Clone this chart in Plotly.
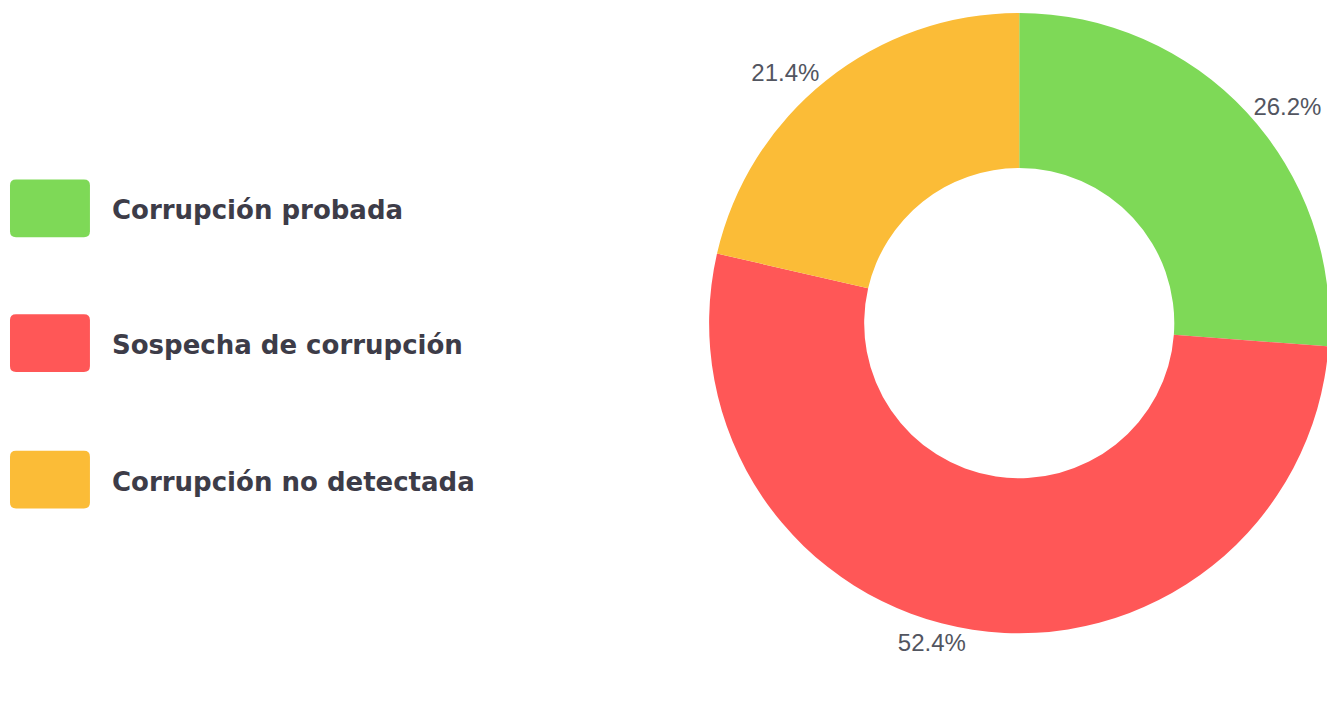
import plotly.graph_objects as go

categories = ["Corrupción probada", "Sospecha de corrupción", "Corrupción no detectada"]
values = [26.2, 52.4, 21.4]
colors = ["#7ed957", "#ff5757", "#fbbc37"]

# page has an 8px body margin, so the figure is the visible area minus it
W, H = 1327, 707

def px(x):
    return x / W

def py(y):
    return 1 - y / H

fig = go.Figure()
fig.add_trace(go.Pie(
    labels=categories,
    values=values,
    hole=0.5,
    sort=False,
    direction="clockwise",
    rotation=0,
    marker=dict(colors=colors, line=dict(color="white", width=0)),
    textposition="outside",
    texttemplate="%{percent:.1%}",
    textfont=dict(family="Liberation Sans, Arial, sans-serif", size=24, color="#525560"),
    showlegend=False,
    hoverinfo="label+percent",
    domain=dict(x=[px(701), px(1323)], y=[py(625), py(3)]),
))

def rounded_rect(x0, y0, x1, y1, r):
    return (f"M {px(x0 + r)} {py(y0)} L {px(x1 - r)} {py(y0)} "
            f"Q {px(x1)} {py(y0)} {px(x1)} {py(y0 + r)} "
            f"L {px(x1)} {py(y1 - r)} Q {px(x1)} {py(y1)} {px(x1 - r)} {py(y1)} "
            f"L {px(x0 + r)} {py(y1)} Q {px(x0)} {py(y1)} {px(x0)} {py(y1 - r)} "
            f"L {px(x0)} {py(y0 + r)} Q {px(x0)} {py(y0)} {px(x0 + r)} {py(y0)} Z")

legend_centers = [199, 334, 471]
shapes = []
annotations = []
for cat, col, cy in zip(categories, colors, legend_centers):
    shapes.append(dict(type="path", xref="paper", yref="paper",
                       path=rounded_rect(2, cy - 29, 82, cy + 29, 6),
                       fillcolor=col, line=dict(width=0)))
    annotations.append(dict(x=px(102), y=py(cy + 2), xref="paper", yref="paper",
                            text=f"<b>{cat}</b>", showarrow=False,
                            xanchor="left", yanchor="middle",
                            font=dict(family="DejaVu Sans, sans-serif", size=26, color="#3d3c48")))

fig.update_layout(
    width=W, height=H,
    margin=dict(l=0, r=0, t=0, b=0),
    paper_bgcolor="white",
    plot_bgcolor="white",
    shapes=shapes,
    annotations=annotations,
)

fig.write_html("out.html")
